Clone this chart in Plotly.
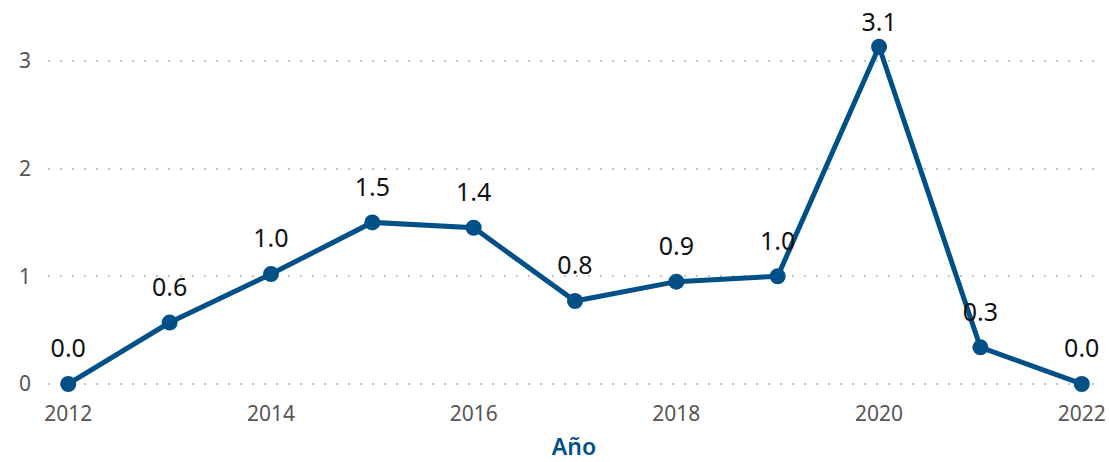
import plotly.graph_objects as go

years = [2012, 2013, 2014, 2015, 2016, 2017, 2018, 2019, 2020, 2021, 2022]
values = [0.0, 0.57, 1.02, 1.50, 1.45, 0.77, 0.95, 1.00, 3.13, 0.34, 0.0]
labels = [f"{v:.1f}" for v in values]
x_ticks = [2012, 2014, 2016, 2018, 2020, 2022]
y_ticks = [0, 1, 2, 3]

color = "#005088"

# label offset: labels near the top edge are pulled closer to their point
vmax = max(values)
label_offsets = [13 if v == vmax else 31 for v in values]

fig = go.Figure()
fig.add_trace(go.Scatter(
    x=years, y=values, mode="lines+markers",
    line=dict(color=color, width=5),
    marker=dict(color=color, size=16, line=dict(width=0)),
    cliponaxis=False, hoverinfo="skip",
))
fig.add_trace(go.Scatter(
    x=years, y=values, mode="markers+text",
    marker=dict(color="rgba(0,0,0,0)", size=label_offsets,
                line=dict(width=0, color="rgba(0,0,0,0)")),
    text=labels, textposition="top center",
    textfont=dict(family="Noto Sans", size=25, color="#111111"),
    cliponaxis=False, hoverinfo="skip",
))

fig.update_layout(
    width=1109, height=462,
    margin=dict(l=48, r=9, t=20, b=72),
    plot_bgcolor="white", paper_bgcolor="white",
    showlegend=False,
    font=dict(family="Noto Sans"),
)
fig.update_xaxes(
    range=[2011.80, 2022.18], tickvals=x_ticks,
    showgrid=False, zeroline=False, showline=False,
    tickfont=dict(size=21, color="#555555"),
    ticks="", ticklen=0, ticklabelstandoff=9, automargin=False,
    title=dict(text="Año", font=dict(size=23, color=color, weight=600), standoff=16),
)
fig.update_yaxes(
    range=[-0.056, 3.379], tickvals=y_ticks,
    showgrid=True, gridcolor="#c4c4c4", griddash="2px,10px", gridwidth=2,
    zeroline=False, showline=False, automargin=False,
    tickfont=dict(size=21, color="#555555"),
    ticklabelstandoff=16,
)

fig.write_html(
    "out.html",
    config={"displayModeBar": False},
    post_script="document.body.style.margin='0';document.body.style.overflow='hidden';",
)
